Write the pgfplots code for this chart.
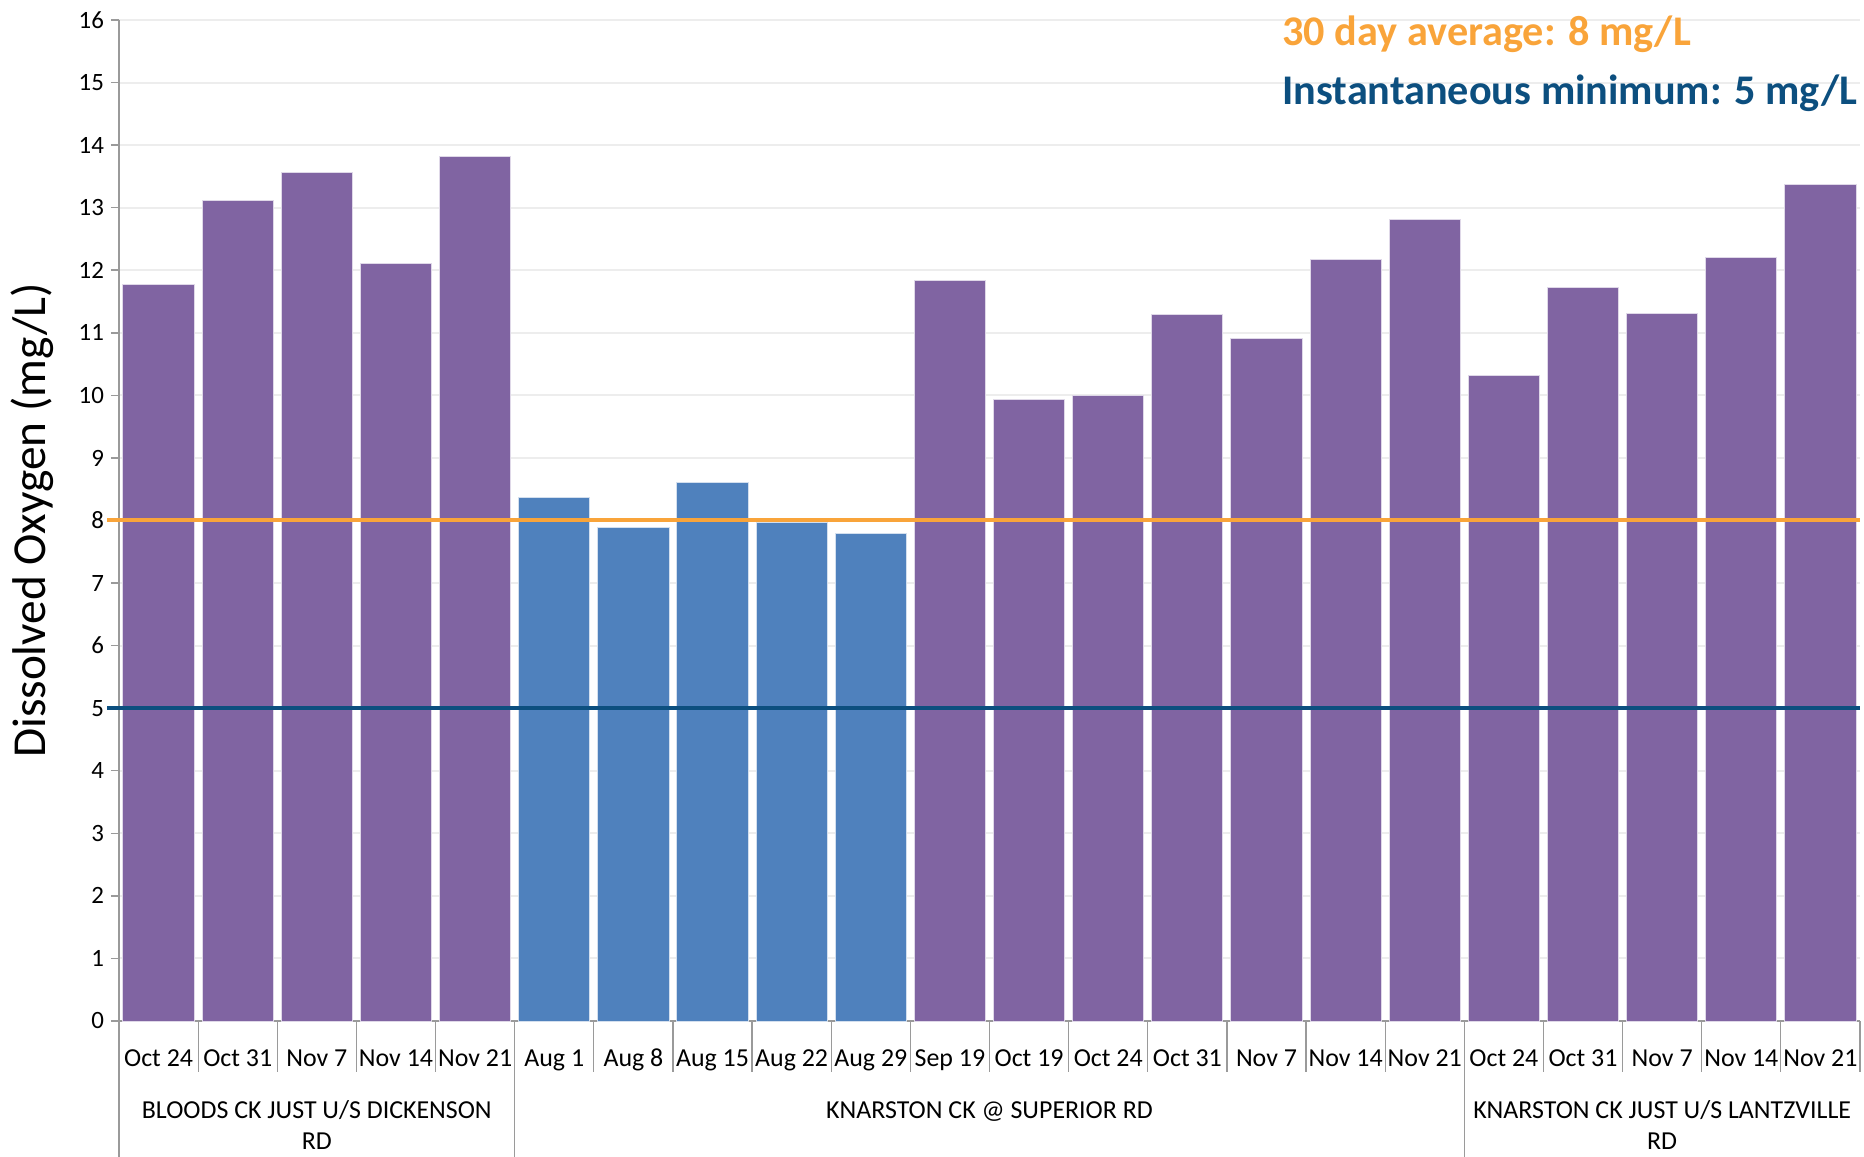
\documentclass[border=0pt]{standalone}
\usepackage{pgfplots}
\pgfplotsset{compat=1.18}
\usepackage{fontspec}
\setmainfont{Carlito}

\definecolor{dopurple}{HTML}{8064A2}
\definecolor{doblue}{HTML}{4F81BD}
\definecolor{avgorange}{HTML}{F9A43A}
\definecolor{mindark}{HTML}{0C4F7F}
\definecolor{gridgray}{HTML}{EDEDED}
\definecolor{axgray}{HTML}{9A9A9A}

\begin{document}
\begin{tikzpicture}
\begin{axis}[
  scale only axis, width=870.5bp, height=500.5bp,
  xmin=0.5, xmax=22.5, ymin=0, ymax=16,
  axis x line*=bottom, axis y line*=left,
  axis line style={axgray, line width=1bp},
  xtick={1,...,22},
  xticklabels={Oct 24,Oct 31,Nov 7,Nov 14,Nov 21,Aug 1,Aug 8,Aug 15,Aug 22,Aug 29,Sep 19,Oct 19,Oct 24,Oct 31,Nov 7,Nov 14,Nov 21,Oct 24,Oct 31,Nov 7,Nov 14,Nov 21},
  xtick style={draw=none},
  xticklabel style={font=\fontsize{13}{15}\selectfont, anchor=base, yshift=-18.5bp},
  ytick={0,...,16},
  tick align=outside, major tick length=4bp,
  ytick style={axgray, line width=0.75bp},
  yticklabel style={font=\fontsize{12.5}{14}\selectfont},
  /pgf/number format/assume math mode=true,
  ymajorgrids, grid style={gridgray, line width=1bp},
  clip=false,
]
\coordinate (SW) at (rel axis cs:0,0);
\coordinate (NE) at (rel axis cs:1,1);

% sites sampled Oct-Nov
\addplot[ybar, bar width=0.9, bar shift=0pt, fill=dopurple, draw=white!75!dopurple, line width=0.5bp]
  coordinates {(1,11.77) (2,13.12) (3,13.57) (4,12.11) (5,13.82)
               (11,11.84) (12,9.94) (13,10.00) (14,11.29) (15,10.91) (16,12.17) (17,12.81)
               (18,10.32) (19,11.72) (20,11.31) (21,12.20) (22,13.37)};
% summer samples
\addplot[ybar, bar width=0.9, bar shift=0pt, fill=doblue, draw=white!75!doblue, line width=0.5bp]
  coordinates {(6,8.37) (7,7.89) (8,8.61) (9,7.97) (10,7.80)};

% guideline levels
\addplot[avgorange, line width=2bp] coordinates {(0.35,8) (22.5,8)};
\addplot[mindark, line width=1.75bp] coordinates {(0.35,5) (22.5,5)};

% category separators
\pgfplotsinvokeforeach{1.5,2.5,3.5,4.5,6.5,7.5,8.5,9.5,10.5,11.5,12.5,13.5,14.5,15.5,16.5,18.5,19.5,20.5,21.5,22.5}{
  \draw[axgray, line width=0.6bp] (axis cs:#1,0) -- ++(0pt,-25.5bp);
}
\pgfplotsinvokeforeach{0.5,5.5,17.5}{
  \draw[axgray, line width=0.6bp] (axis cs:#1,0) -- ++(0pt,-68bp);
}

% site names
\node[anchor=base, font=\fontsize{13}{15}\selectfont] at ([yshift=-48.5bp]axis cs:3,0) {BLOODS CK JUST U/S DICKENSON};
\node[anchor=base, font=\fontsize{13}{15}\selectfont] at ([yshift=-64bp]axis cs:3,0) {RD};
\node[anchor=base, font=\fontsize{13}{15}\selectfont] at ([yshift=-48.5bp]axis cs:11.5,0) {KNARSTON CK @ SUPERIOR RD};
\node[anchor=base, font=\fontsize{13}{15}\selectfont] at ([yshift=-48.5bp]axis cs:20,0) {KNARSTON CK JUST U/S LANTZVILLE};
\node[anchor=base, font=\fontsize{13}{15}\selectfont] at ([yshift=-64bp]axis cs:20,0) {RD};

% y label
\node[rotate=90, font=\fontsize{23.75}{26}\selectfont] at ([xshift=-43.5bp]rel axis cs:0,0.5) {Dissolved Oxygen (mg/L)};

% criteria notes
\node[anchor=base west, inner sep=0pt, text=avgorange, font=\bfseries\fontsize{21.2}{24}\selectfont] at ([xshift=581.5bp, yshift=-13bp]rel axis cs:0,1) {30 day average: 8 mg/L};
\node[anchor=base west, inner sep=0pt, text=mindark, font=\bfseries\fontsize{21.2}{24}\selectfont] at ([xshift=581.5bp, yshift=-42.5bp]rel axis cs:0,1) {Instantaneous minimum: 5 mg/L};
\end{axis}
\pgfresetboundingbox
\path[use as bounding box] ([shift={(-59.5bp,-68bp)}]SW) rectangle ([shift={(2bp,10bp)}]NE);
\end{tikzpicture}
\end{document}
